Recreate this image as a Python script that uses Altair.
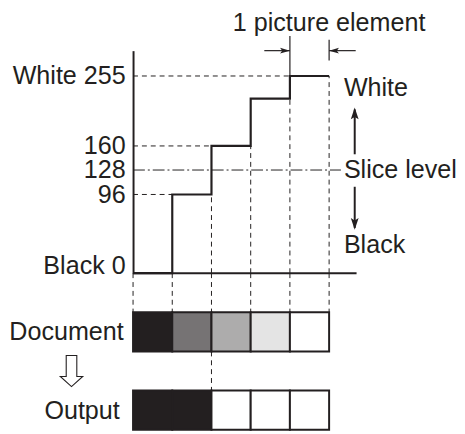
import altair as alt
import pandas as pd

# ---- data -------------------------------------------------------------
levels = [0, 96, 160, 224, 255]           # gray level of each picture element
slice_level = 128
axis_levels = [0, 96, 128, 160, 255]
level_names = {0: "Black 0", 255: "White 255"}
guide_levels = [96, 160, 255]
row_names = ["Document", "Output"]
top_label = "1 picture element"
side_labels = ["White", "Slice level", "Black"]
side_anchor = [255, 128, 0]

INK = "#231f20"
FONT = "Liberation Sans"
FS = 25.5

n = len(levels)
xmax = 5.7
ymax = 290

X = alt.Scale(domain=[0, xmax], nice=False, zero=False)
TOP = alt.Scale(type="pow", exponent=0.94, domain=[0, ymax], range=[266, 40], nice=False)
BOT = alt.Scale(type="linear", domain=[0, 4], range=[266, 425], nice=False, zero=False)
FILL = alt.Scale(domain=[0, 255], range=[INK, "#ffffff"], interpolate="rgb")


def xq(f):
    return alt.X(f, type="quantitative", scale=X, axis=None)


def yt(f, axis=None):
    return alt.Y(f, type="quantitative", scale=TOP, axis=axis)


def yb(f, axis=None):
    return alt.Y(f, type="quantitative", scale=BOT, axis=axis)


# ---- top part ---------------------------------------------------------
label_expr = " : ".join(
    [f"datum.value == {k} ? '{v}'" for k, v in level_names.items()] + ["datum.label"]
)
axis_top = alt.Axis(
    values=axis_levels, orient="left", title=None, grid=False, ticks=False,
    domain=True, domainColor=INK, domainWidth=2,
    labelFont=FONT, labelFontSize=FS, labelColor=INK, labelPadding=8,
    labelFlush=False, labelOverlap=False, labelExpr=label_expr,
    labelBaseline={"expr": "datum.value == 0 ? 'alphabetic' : 'middle'"},
)

guide_df = pd.DataFrame({"v": guide_levels, "x0": 0,
                         "x1": [levels.index(v) if v != levels[-1] else n - 1 for v in guide_levels]})
guides = alt.Chart(guide_df).mark_rule(strokeDash=[5, 4], strokeWidth=1, color=INK).encode(
    x=xq("x0"), x2="x1", y=yt("v", axis_top))

vdash_df = pd.DataFrame({"x": list(range(2, n + 1)), "top": levels[1:], "bot": 0})
vdash = alt.Chart(vdash_df).mark_rule(strokeDash=[5, 4], strokeWidth=1, color=INK).encode(
    x=xq("x"), y=yt("bot"), y2="top")

slice_df = pd.DataFrame({"v": [slice_level], "x0": [0], "x1": [n]})
slice_line = alt.Chart(slice_df).mark_rule(strokeDash=[12, 3, 2, 3], strokeWidth=1, color=INK,
                                           x2Offset=12).encode(
    x=xq("x0"), x2="x1", y=yt("v"))

base_df = pd.DataFrame({"v": [0], "x0": [0], "x1": [xmax]})
baseline = alt.Chart(base_df).mark_rule(strokeWidth=2, color=INK).encode(
    x=xq("x0"), x2="x1", y=yt("v"))

step_df = pd.DataFrame({"x": list(range(n + 1)), "v": levels + [levels[-1]]})
step = alt.Chart(step_df).mark_line(interpolate="step-after", strokeWidth=2.2, color=INK).encode(
    x=xq("x"), y=yt("v"))

dim_df = pd.DataFrame({"x": [n - 1], "v": [levels[-1]], "top": [ymax]})
dim_left = alt.Chart(dim_df).mark_rule(strokeWidth=1.2, color=INK, y2Offset=-15).encode(
    x=xq("x"), y=yt("v"), y2="top")
tick_df = pd.DataFrame({"x": [n], "v": [ymax]})
dim_right = alt.Chart(tick_df).mark_rule(strokeWidth=1.2, color=INK, yOffset=10, y2Offset=-11).encode(
    x=xq("x"), y=yt("v"), y2="v")

arr_df = pd.DataFrame({"x": [n - 1, n], "v": [ymax, ymax]})
shaft_r = alt.Chart(arr_df.iloc[[0]]).mark_rule(strokeWidth=1.2, color=INK, xOffset=-26).encode(
    x=xq("x"), x2="x", y=yt("v"))
shaft_l = alt.Chart(arr_df.iloc[[1]]).mark_rule(strokeWidth=1.2, color=INK, x2Offset=27).encode(
    x=xq("x"), x2="x", y=yt("v"))
RIGHT = "M0,0L-1,-0.3L-0.78,0L-1,0.3Z"
LEFT = "M0,0L1,-0.3L0.78,0L1,0.3Z"
UP = "M0,0L0.33,1L0,0.8L-0.33,1Z"
DOWN = "M0,0L0.33,-1L0,-0.8L-0.33,-1Z"
head_r = alt.Chart(arr_df.iloc[[0]]).mark_point(shape=RIGHT, size=400, filled=True, color=INK,
                                                opacity=1).encode(x=xq("x"), y=yt("v"))
head_l = alt.Chart(arr_df.iloc[[1]]).mark_point(shape=LEFT, size=400, filled=True, color=INK,
                                                opacity=1).encode(x=xq("x"), y=yt("v"))

title_df = pd.DataFrame({"x": [n], "v": [ymax], "t": [top_label]})
title_txt = alt.Chart(title_df).mark_text(font=FONT, fontSize=FS, color=INK, align="center",
                                          baseline="alphabetic", dy=-20).encode(
    x=xq("x"), y=yt("v"), text="t")

side_layers = []
for lab, anc, dy in zip(side_labels, side_anchor, [12, 0, -28]):
    d = pd.DataFrame({"x": [n], "v": [anc], "t": [lab]})
    side_layers.append(
        alt.Chart(d).mark_text(font=FONT, fontSize=FS, color=INK, align="left",
                               baseline="middle", dx=15, dy=dy).encode(
            x=xq("x"), y=yt("v"), text="t"))

varr_df = pd.DataFrame({"x": [n], "s": [slice_level], "w": [levels[-1]], "b": [levels[0]]})
up_shaft = alt.Chart(varr_df).mark_rule(strokeWidth=2, color=INK, xOffset=26, x2Offset=26,
                                        yOffset=-16, y2Offset=34).encode(
    x=xq("x"), y=yt("s"), y2="w")
up_head = alt.Chart(varr_df).mark_point(shape=UP, size=576, filled=True, color=INK, opacity=1,
                                        xOffset=26, yOffset=32).encode(x=xq("x"), y=yt("w"))
dn_shaft = alt.Chart(varr_df).mark_rule(strokeWidth=2, color=INK, xOffset=26, x2Offset=26,
                                        yOffset=17, y2Offset=-46).encode(
    x=xq("x"), y=yt("s"), y2="b")
dn_head = alt.Chart(varr_df).mark_point(shape=DOWN, size=576, filled=True, color=INK, opacity=1,
                                        xOffset=26, yOffset=-44).encode(x=xq("x"), y=yt("b"))

# ---- bottom part ------------------------------------------------------
first_white = next(i for i, v in enumerate(levels) if v >= slice_level)
cells = pd.DataFrame({
    "x0": list(range(n)) * 2,
    "x1": list(range(1, n + 1)) * 2,
    "r0": [1] * n + [3] * n,
    "r1": [2] * n + [4] * n,
    "level": levels + [255 if v >= slice_level else 0 for v in levels],
})
axis_bot = alt.Axis(
    values=[1.5, 3.5], orient="left", title=None, grid=False, ticks=False, domain=False,
    labelFont=FONT, labelFontSize=FS, labelColor=INK,
    labelPadding={"expr": "datum.value < 2 ? 10 : 14"},
    labelFlush=False, labelOverlap=False, labelBaseline="middle",
    labelExpr=f"datum.value < 2 ? '{row_names[0]}' : '{row_names[1]}'",
)
cell_marks = alt.Chart(cells).mark_rect(stroke=INK, strokeWidth=2).encode(
    x=xq("x0"), x2="x1", y=yb("r0", axis_bot), y2="r1",
    fill=alt.Fill("level:Q", scale=FILL, legend=None))

conn_df = pd.DataFrame({"x": list(range(n + 1)), "a": 0, "b": 1})
conn = alt.Chart(conn_df).mark_rule(strokeDash=[5, 4], strokeWidth=1, color=INK).encode(
    x=xq("x"), y=yb("a"), y2="b")
conn2_df = pd.DataFrame({"x": [first_white], "a": [2], "b": [3]})
conn2 = alt.Chart(conn2_df).mark_rule(strokeDash=[5, 4], strokeWidth=1, color=INK).encode(
    x=xq("x"), y=yb("a"), y2="b")

HOLLOW = "M-0.34,-1L0.34,-1L0.34,0.35L0.72,0.35L0,1L-0.72,0.35L-0.34,0.35Z"
harrow_df = pd.DataFrame({"x": [0], "r": [2.5]})
harrow = alt.Chart(harrow_df).mark_point(shape=HOLLOW, size=1000, filled=False, stroke=INK,
                                         strokeWidth=1.1, fill="white", opacity=1,
                                         xOffset=-62.5).encode(x=xq("x"), y=yb("r"))

chart = (
    alt.layer(guides, vdash, slice_line, baseline, step, dim_left, dim_right,
              shaft_r, shaft_l, head_r, head_l, title_txt, *side_layers,
              up_shaft, up_head, dn_shaft, dn_head,
              conn, conn2, cell_marks, harrow)
    .resolve_scale(y="independent")
    .properties(width=227, height=426, padding=0)
    .configure_view(stroke=None)
)

chart.save("out.html", embed_options={"renderer": "svg", "actions": False})
